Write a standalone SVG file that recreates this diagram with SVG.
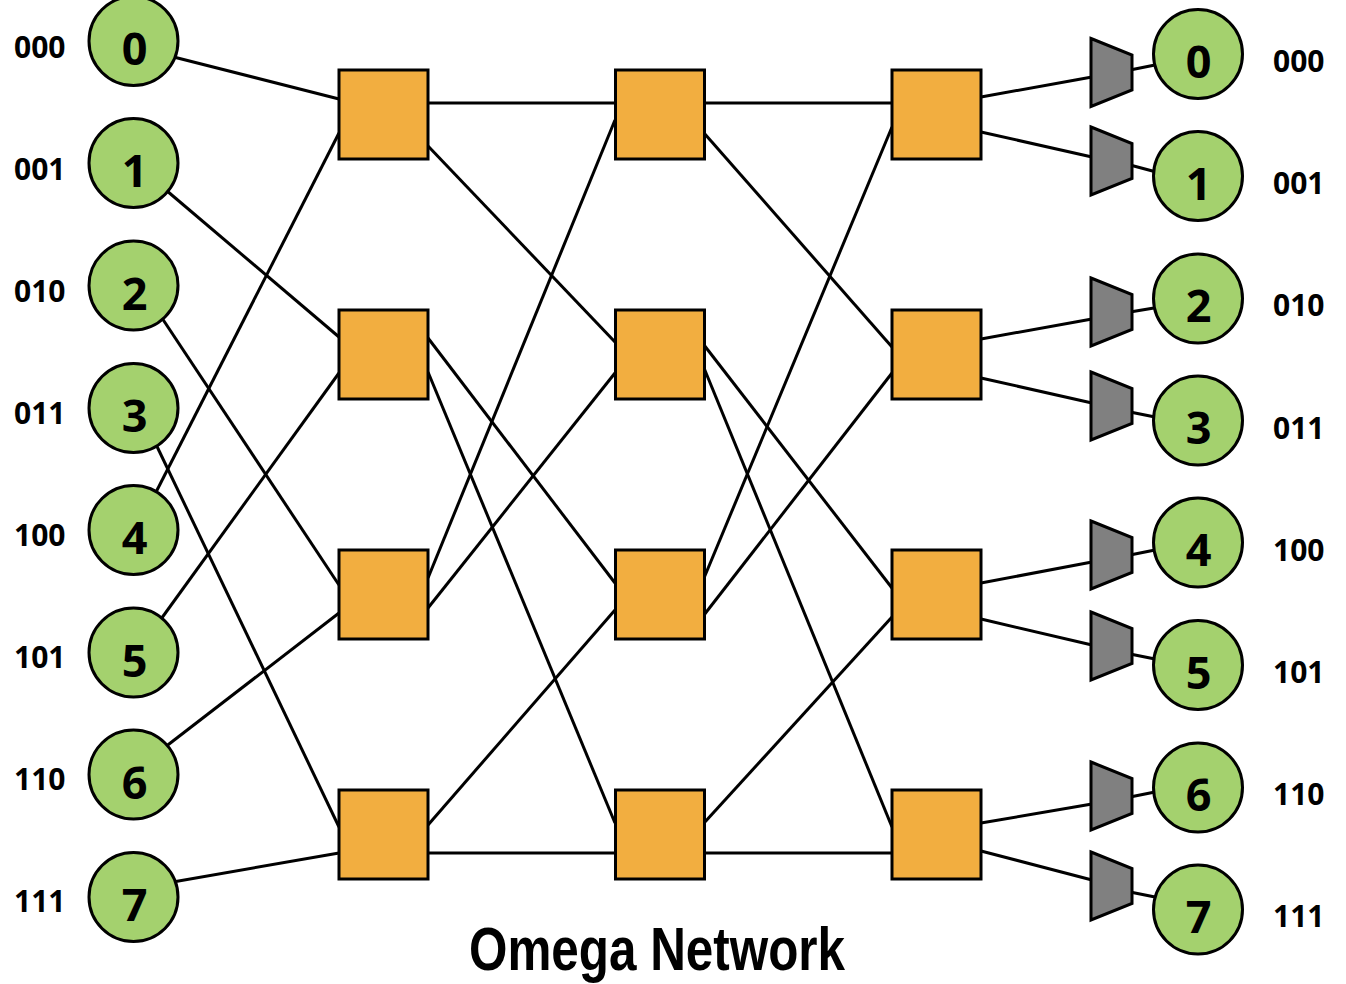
<svg xmlns="http://www.w3.org/2000/svg" width="1346" height="984" viewBox="0 0 1346 984">
<style>
.bg{fill:#ffffff}
.in circle,.out circle{fill:#A4D16E;stroke:#000;stroke-width:3}
.num{font-family:"Open Sans","Liberation Sans",sans-serif;font-weight:bold;font-size:45px;text-anchor:middle;fill:#000}
.lbl{font-family:"Open Sans","Liberation Sans",sans-serif;font-weight:bold;font-size:30px;fill:#000}
.sw rect{fill:#F2AE40;stroke:#000;stroke-width:3}
.mux{fill:#808080;stroke:#000;stroke-width:3;stroke-linejoin:miter}
.wires line{stroke:#000;stroke-width:3;fill:none}
.title{font-family:"Liberation Sans",Arial,sans-serif;font-weight:bold;font-size:62px;fill:#000}
</style>
<defs>
<polygon id="trap" points="0,-34 41,-17.5 41,17.5 0,34"/>
</defs>
<rect class="bg" x="0" y="0" width="1346" height="984"/>

<g id="connectors" class="wires">
<!-- inputs to stage 1 -->
<line x1="150" y1="51" x2="339" y2="99"/>
<line x1="160" y1="185" x2="339" y2="337"/>
<line x1="154" y1="306" x2="339" y2="585"/>
<line x1="152" y1="436" x2="339" y2="827"/>
<line x1="152" y1="500" x2="339" y2="133"/>
<line x1="156" y1="626" x2="339" y2="373"/>
<line x1="160" y1="751" x2="339" y2="613"/>
<line x1="150" y1="886" x2="339" y2="853"/>
<!-- stage 1 to stage 2 -->
<line x1="428" y1="103" x2="615" y2="103"/>
<line x1="428" y1="146" x2="615" y2="342"/>
<line x1="428" y1="338" x2="615" y2="583"/>
<line x1="428" y1="372" x2="615" y2="823"/>
<line x1="428" y1="578" x2="615" y2="120"/>
<line x1="428" y1="608" x2="615" y2="373"/>
<line x1="428" y1="825" x2="615" y2="610"/>
<line x1="428" y1="853" x2="615" y2="853"/>
<!-- stage 2 to stage 3 -->
<line x1="704" y1="103" x2="892" y2="103"/>
<line x1="704" y1="133" x2="892" y2="347"/>
<line x1="704" y1="345" x2="892" y2="588"/>
<line x1="704" y1="368" x2="892" y2="827"/>
<line x1="704" y1="578" x2="892" y2="127"/>
<line x1="704" y1="615" x2="892" y2="373"/>
<line x1="704" y1="823" x2="892" y2="617"/>
<line x1="704" y1="853" x2="892" y2="853"/>
<!-- stage 3 to muxes -->
<line x1="981" y1="97" x2="1092" y2="77"/>
<line x1="981" y1="132" x2="1092" y2="157"/>
<line x1="981" y1="339" x2="1092" y2="319"/>
<line x1="981" y1="378" x2="1092" y2="403"/>
<line x1="981" y1="583" x2="1092" y2="562"/>
<line x1="981" y1="619" x2="1092" y2="645"/>
<line x1="981" y1="823" x2="1092" y2="804"/>
<line x1="981" y1="851" x2="1092" y2="880"/>
<!-- muxes to outputs -->
<line x1="1130" y1="70" x2="1160" y2="64"/>
<line x1="1130" y1="165" x2="1160" y2="173"/>
<line x1="1130" y1="312" x2="1160" y2="307"/>
<line x1="1130" y1="412" x2="1160" y2="418"/>
<line x1="1130" y1="555" x2="1160" y2="549"/>
<line x1="1130" y1="654" x2="1160" y2="660"/>
<line x1="1130" y1="797" x2="1160" y2="791"/>
<line x1="1130" y1="892" x2="1160" y2="898"/>
</g>

<g id="input-0" class="in"><circle cx="133.5" cy="41" r="44.5"/><text class="num" x="134.5" y="65">0</text><text class="lbl" x="14" y="57.5">000</text></g>
<g id="input-1" class="in"><circle cx="133.5" cy="163" r="44.5"/><text class="num" x="134.5" y="187">1</text><text class="lbl" x="14" y="179.5">001</text></g>
<g id="input-2" class="in"><circle cx="133.5" cy="285.5" r="44.5"/><text class="num" x="134.5" y="309.5">2</text><text class="lbl" x="14" y="301.5">010</text></g>
<g id="input-3" class="in"><circle cx="133.5" cy="408" r="44.5"/><text class="num" x="134.5" y="432">3</text><text class="lbl" x="14" y="423.5">011</text></g>
<g id="input-4" class="in"><circle cx="133.5" cy="530" r="44.5"/><text class="num" x="134.5" y="554">4</text><text class="lbl" x="14" y="545.5">100</text></g>
<g id="input-5" class="in"><circle cx="133.5" cy="652.5" r="44.5"/><text class="num" x="134.5" y="676.5">5</text><text class="lbl" x="14" y="667.5">101</text></g>
<g id="input-6" class="in"><circle cx="133.5" cy="774.5" r="44.5"/><text class="num" x="134.5" y="798.5">6</text><text class="lbl" x="14" y="790">110</text></g>
<g id="input-7" class="in"><circle cx="133.5" cy="897" r="44.5"/><text class="num" x="134.5" y="921">7</text><text class="lbl" x="14" y="911.5">111</text></g>

<g id="switch-1-0" class="sw"><rect x="339" y="70" width="89" height="89"/></g>
<g id="switch-1-1" class="sw"><rect x="339" y="310" width="89" height="89"/></g>
<g id="switch-1-2" class="sw"><rect x="339" y="550" width="89" height="89"/></g>
<g id="switch-1-3" class="sw"><rect x="339" y="790" width="89" height="89"/></g>
<g id="switch-2-0" class="sw"><rect x="615.5" y="70" width="89" height="89"/></g>
<g id="switch-2-1" class="sw"><rect x="615.5" y="310" width="89" height="89"/></g>
<g id="switch-2-2" class="sw"><rect x="615.5" y="550" width="89" height="89"/></g>
<g id="switch-2-3" class="sw"><rect x="615.5" y="790" width="89" height="89"/></g>
<g id="switch-3-0" class="sw"><rect x="892" y="70" width="89" height="89"/></g>
<g id="switch-3-1" class="sw"><rect x="892" y="310" width="89" height="89"/></g>
<g id="switch-3-2" class="sw"><rect x="892" y="550" width="89" height="89"/></g>
<g id="switch-3-3" class="sw"><rect x="892" y="790" width="89" height="89"/></g>

<g id="mux-0" class="mux"><use href="#trap" x="1091" y="72.5"/></g>
<g id="mux-1" class="mux"><use href="#trap" x="1091" y="161"/></g>
<g id="mux-2" class="mux"><use href="#trap" x="1091" y="312"/></g>
<g id="mux-3" class="mux"><use href="#trap" x="1091" y="406"/></g>
<g id="mux-4" class="mux"><use href="#trap" x="1091" y="555"/></g>
<g id="mux-5" class="mux"><use href="#trap" x="1091" y="646"/></g>
<g id="mux-6" class="mux"><use href="#trap" x="1091" y="796"/></g>
<g id="mux-7" class="mux"><use href="#trap" x="1091" y="886"/></g>

<g id="output-0" class="out"><circle cx="1198" cy="54" r="44.5"/><text class="num" x="1198.5" y="77.5">0</text><text class="lbl" x="1273" y="72">000</text></g>
<g id="output-1" class="out"><circle cx="1198" cy="176" r="44.5"/><text class="num" x="1198.5" y="199.5">1</text><text class="lbl" x="1273" y="194">001</text></g>
<g id="output-2" class="out"><circle cx="1198" cy="298.5" r="44.5"/><text class="num" x="1198.5" y="322">2</text><text class="lbl" x="1273" y="316">010</text></g>
<g id="output-3" class="out"><circle cx="1198" cy="420.5" r="44.5"/><text class="num" x="1198.5" y="444">3</text><text class="lbl" x="1273" y="438.5">011</text></g>
<g id="output-4" class="out"><circle cx="1198" cy="542.5" r="44.5"/><text class="num" x="1198.5" y="566">4</text><text class="lbl" x="1273" y="560.5">100</text></g>
<g id="output-5" class="out"><circle cx="1198" cy="665" r="44.5"/><text class="num" x="1198.5" y="688.5">5</text><text class="lbl" x="1273" y="682.5">101</text></g>
<g id="output-6" class="out"><circle cx="1198" cy="787.5" r="44.5"/><text class="num" x="1198.5" y="811">6</text><text class="lbl" x="1273" y="805">110</text></g>
<g id="output-7" class="out"><circle cx="1198" cy="909.5" r="44.5"/><text class="num" x="1198.5" y="933">7</text><text class="lbl" x="1273" y="927">111</text></g>

<g id="title"><text class="title" x="469" y="970" textLength="376" lengthAdjust="spacingAndGlyphs">Omega Network</text></g>
</svg>
